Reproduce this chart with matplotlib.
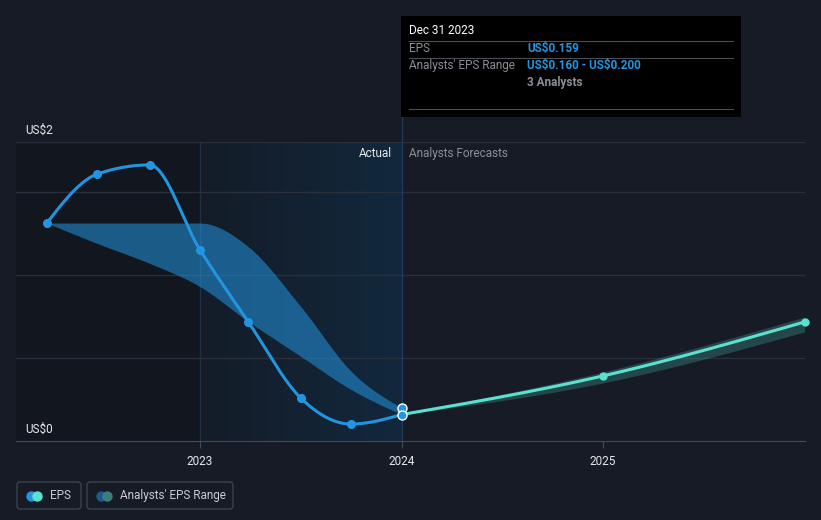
import numpy as np
import matplotlib
matplotlib.use("Agg")
import matplotlib.pyplot as plt
from matplotlib.patches import FancyBboxPatch, Rectangle

plt.rcParams['font.family'] = ['Roboto', 'DejaVu Sans']

# actual EPS (quarterly points)
eps_x = [2022.24, 2022.49, 2022.75, 2023.0, 2023.24, 2023.5, 2023.75, 2024.0]
eps_y = [1.313, 1.608, 1.663, 1.151, 0.717, 0.259, 0.102, 0.159]

# analysts' past range band
range_hi = [1.313, 1.313, 1.313, 1.313, 1.17, 0.81, 0.42, 0.200]
range_lo = [1.313, 1.19, 1.07, 0.93, 0.72, 0.51, 0.31, 0.160]

# forecast
fc_x = [2024.0, 2025.0, 2026.0]
fc_y = [0.159, 0.392, 0.717]
fc_hi = [0.163, 0.416, 0.747]
fc_lo = [0.159, 0.350, 0.657]

years = [2023, 2024, 2025]

BG = '#161b25'
BLUE = '#2394df'
MINT = '#5ce0d0'


def monotone(xs, ys, n=400):
    # d3 curveMonotoneX style interpolation
    xs = np.asarray(xs, float)
    ys = np.asarray(ys, float)
    h = np.diff(xs)
    s = np.diff(ys) / h
    m = np.zeros(len(xs))
    for i in range(1, len(xs) - 1):
        p = (s[i - 1] * h[i] + s[i] * h[i - 1]) / (h[i - 1] + h[i])
        m[i] = (np.sign(s[i - 1]) + np.sign(s[i])) * min(abs(s[i - 1]), abs(s[i]), 0.5 * abs(p))
    m[0] = (3 * s[0] - m[1]) / 2 if len(xs) > 2 else s[0]
    m[-1] = (3 * s[-1] - m[-2]) / 2 if len(xs) > 2 else s[-1]
    out_x, out_y = [], []
    for i in range(len(xs) - 1):
        t = np.linspace(0, 1, n // (len(xs) - 1) + 2)
        h00 = 2 * t**3 - 3 * t**2 + 1
        h10 = t**3 - 2 * t**2 + t
        h01 = -2 * t**3 + 3 * t**2
        h11 = t**3 - t**2
        yy = h00 * ys[i] + h10 * h[i] * m[i] + h01 * ys[i + 1] + h11 * h[i] * m[i + 1]
        out_x.append(xs[i] + t * h[i])
        out_y.append(yy)
    return np.concatenate(out_x), np.concatenate(out_y)


fig = plt.figure(figsize=(8.21, 5.2), dpi=100, facecolor=BG)
ax = fig.add_axes([16 / 821, (520 - 441) / 520, (805 - 16) / 821, (441 - 142) / 520])
ax.set_facecolor(BG)

x0 = 2023 - (200 - 16) / 201.5
x1 = 2025 + (805 - 603) / 201.5
ax.set_xlim(x0, x1)
ax.set_ylim(0, (441 - 142) / 166)

# background regions
ax.axvspan(x0, 2023, color='#12161e', zorder=0, lw=0)
grad = np.linspace(0, 1, 256).reshape(1, -1)
cmap = matplotlib.colors.LinearSegmentedColormap.from_list('g', ['#141c28', '#12283d'])
ax.imshow(grad, extent=[2023, 2024, 0, 1.801], aspect='auto', cmap=cmap, zorder=0.5)
ax.axvline(2023, color='#1f3145', lw=1, zorder=1)

# grid
for gy in [0.5, 1.0, 1.5, 1.801]:
    ax.axhline(gy, color='#2a303b', lw=1, zorder=1)

for sp in ['top', 'right', 'left']:
    ax.spines[sp].set_visible(False)
ax.spines['bottom'].set_color('#454b55')
ax.set_yticks([])
ax.set_xticks(years)
ax.set_xticklabels([str(y) for y in years])
ax.tick_params(axis='x', colors='#454b55', labelcolor='#e6e8eb', length=5, pad=5, labelsize=8.5)

# range band (past)
bx, bhi = monotone(eps_x, range_hi)
_, blo = monotone(eps_x, range_lo)
ax.fill_between(bx, blo, bhi, color=BLUE, alpha=0.55, lw=0, zorder=2)

# forecast band
fx, fhi = monotone(fc_x, fc_hi)
_, flo = monotone(fc_x, fc_lo)
ax.fill_between(fx, flo, fhi, color=MINT, alpha=0.22, lw=0, zorder=2)

# hover line at 2024
ax.axvline(2024, ymin=0, ymax=(441 - 16) / 299, color='#1e3a55', lw=1, zorder=1.5, clip_on=False)

# EPS line
lx, ly = monotone(eps_x, eps_y)
ax.plot(lx, ly, color=BLUE, lw=2.2, zorder=4, solid_capstyle='round')
ax.plot(eps_x[:-1], eps_y[:-1], 'o', color=BLUE, ms=5.5, zorder=5)

# forecast line
gx, gy_ = monotone(fc_x, fc_y)
ax.plot(gx, gy_, color=MINT, lw=2.2, zorder=4)
ax.plot(fc_x[1:], fc_y[1:], 'o', color=MINT, ms=5, zorder=5, clip_on=False)

# highlighted points at 2024
ax.plot([2024, 2024], [range_hi[-1], eps_y[-1]], 'o', color=BLUE, ms=6.5,
        markeredgecolor='white', markeredgewidth=1, zorder=6)

# y labels
yt = ax.get_yaxis_transform()
ax.text(0.012, 1.801 + 0.03, 'US\\$2', transform=yt, color='#e6e8eb', fontsize=8.5, va='bottom')
ax.text(0.012, 0.03, 'US\\$0', transform=yt, color='#e6e8eb', fontsize=8.5, va='bottom')

ax.text(2024 - 0.045, 1.73, 'Actual', color='#e6e8eb', fontsize=8.5, ha='right', va='center')
ax.text(2024 + 0.035, 1.73, 'Analysts Forecasts', color='#8a8f97', fontsize=8.5, ha='left', va='center')

# overlay in pixel coords for tooltip and legend
ov = fig.add_axes([0, 0, 1, 1], zorder=10)
ov.set_xlim(0, 821)
ov.set_ylim(520, 0)
ov.axis('off')
ov.patch.set_alpha(0)

ov.add_patch(Rectangle((401, 16), 340, 101, color='black', lw=0))
for yy in [41, 58, 109]:
    ov.plot([409, 733], [yy, yy], color='#4a4d52', lw=0.8)
ov.text(409, 31, 'Dec 31 2023', color='white', fontsize=8.5, va='center')
ov.text(409, 48.5, 'EPS', color='#8a8f97', fontsize=8.5, va='center')
ov.text(527, 48.5, 'US\\$0.159', color=BLUE, fontsize=8.5, va='center', fontweight='bold')
ov.text(409, 65.5, "Analysts' EPS Range", color='#8a8f97', fontsize=8.5, va='center')
ov.text(527, 65.5, 'US\\$0.160 - US\\$0.200', color=BLUE, fontsize=8.5, va='center', fontweight='bold')
ov.text(527, 82.5, '3 Analysts', color='#8a8f97', fontsize=8.5, va='center', fontweight='bold')

# legend
for bx0, bw in [(17, 64), (87, 146)]:
    ov.add_patch(FancyBboxPatch((bx0, 482), bw, 27, boxstyle='round,pad=0,rounding_size=3',
                                fc='none', ec='#3c424c', lw=1))
ov.plot([31], [495.5], 'o', color=BLUE, ms=6.5)
ov.plot([37], [495.5], 'o', color=MINT, ms=6.5)
ov.text(50, 495.5, 'EPS', color='#c8ccd2', fontsize=8.5, va='center')
ov.plot([101], [495.5], 'o', color='#1f5a8a', ms=6.5)
ov.plot([107], [495.5], 'o', color='#3b7f7c', ms=6.5)
ov.text(120, 495.5, "Analysts' EPS Range", color='#c8ccd2', fontsize=8.5, va='center')

fig.savefig('out.png', dpi=100, facecolor=BG)
